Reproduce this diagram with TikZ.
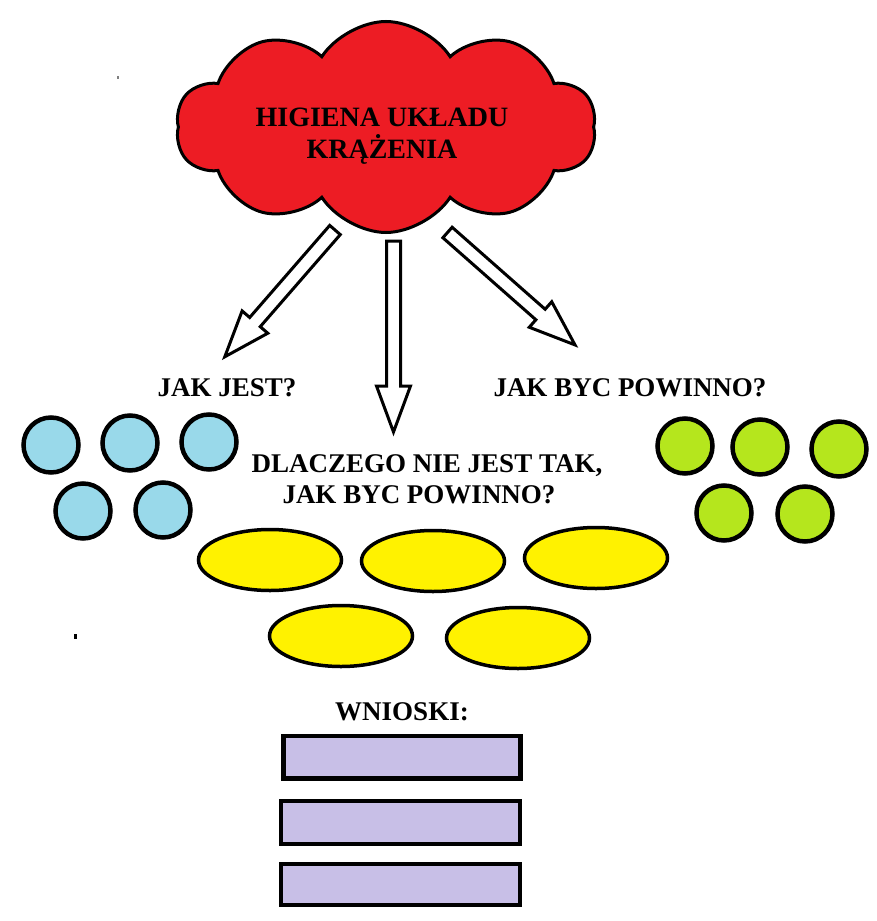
\documentclass[tikz,border=0pt]{standalone}
\usepackage{fontspec}
\setmainfont{Liberation Serif}
\usetikzlibrary{shapes.symbols, shapes.geometric}

\definecolor{cloudred}{HTML}{ED1C24}
\definecolor{dotblue}{HTML}{99D9EA}
\definecolor{dotgreen}{HTML}{B5E61D}
\definecolor{ovalyellow}{HTML}{FFF200}
\definecolor{boxlilac}{HTML}{C8BFE7}

% hollow block arrow: tail point, angle, length
\newcommand{\hollowarrow}[3]{%
  \begin{scope}[shift={#1}, rotate=#2]
    \draw[arrowline] (0,-7) -- ({#3-46},-7) -- ({#3-46},-17) -- (#3,0)
      -- ({#3-46},17) -- ({#3-46},7) -- (0,7) -- cycle;
  \end{scope}}

\begin{document}
\begin{tikzpicture}[x=1pt, y=-1pt,
    arrowline/.style={draw=black, fill=white, line width=3pt, line join=miter},
    label/.style={font=\fontsize{27}{31}\selectfont\bfseries, inner sep=0pt, anchor=base},
    bluedot/.style={circle, draw, line width=4.5pt, fill=dotblue, minimum size=55pt, inner sep=0pt},
    greendot/.style={circle, draw, line width=4.5pt, fill=dotgreen, minimum size=55pt, inner sep=0pt},
    oval/.style={ellipse, draw, line width=3.5pt, fill=ovalyellow, minimum width=143pt, minimum height=61pt, inner sep=0pt},
    answer/.style={draw, line width=4.5pt, fill=boxlilac}]
    \useasboundingbox (0,0) rectangle (877,921);

    % Chmura z tematem
    \node[cloud, cloud puffs=10, cloud puff arc=115, aspect=2, draw, line width=3pt,
          fill=cloudred, minimum width=420pt, minimum height=211pt] (cloud) at (386,127) {};
    \node[font=\fontsize{28}{32}\selectfont\bfseries, align=center, inner sep=0pt] (title) at (382,136)
        {HIGIENA UKŁADU\\KRĄŻENIA};

    % Strzalki
    \hollowarrow{(335,230)}{229}{168}
    \hollowarrow{(393.5,241)}{-90}{191}
    \hollowarrow{(447.5,232.5)}{-41.4}{170}

    % Pytania
    \node[label] (jest) at (227,396) {JAK JEST?};
    \node[label] (powinno) at (630,396) {JAK BYC POWINNO?};
    \node[label] (dlaczego) at (427,472) {DLACZEGO NIE JEST TAK,};
    \node[label] (dlaczego2) at (419,503) {JAK BYC POWINNO?};

    % Kolka
    \foreach \x/\y [count=\i] in {51/445, 130/443, 209/442, 83/511, 163/510}
        \node[bluedot] (blue\i) at (\x,\y) {};
    \foreach \x/\y [count=\i] in {685/446, 760/447, 839/449, 724/513, 805/514}
        \node[greendot] (green\i) at (\x,\y) {};

    % Owale
    \foreach \x/\y [count=\i] in {270/560, 433/561, 596/558, 341/636, 518/638}
        \node[oval] (oval\i) at (\x,\y) {};

    % Wnioski
    \node[label] (wnioski) at (402,720) {WNIOSKI:};
    \draw[answer] (283.5,736) rectangle (520.5,778.5);
    \draw[answer] (281,801) rectangle (520,844);
    \draw[answer] (281,864) rectangle (520,905);

    % kropki
    \fill[gray] (117,76) rectangle (119,79);
    \fill (74,634) rectangle (77,639);
\end{tikzpicture}
\end{document}
